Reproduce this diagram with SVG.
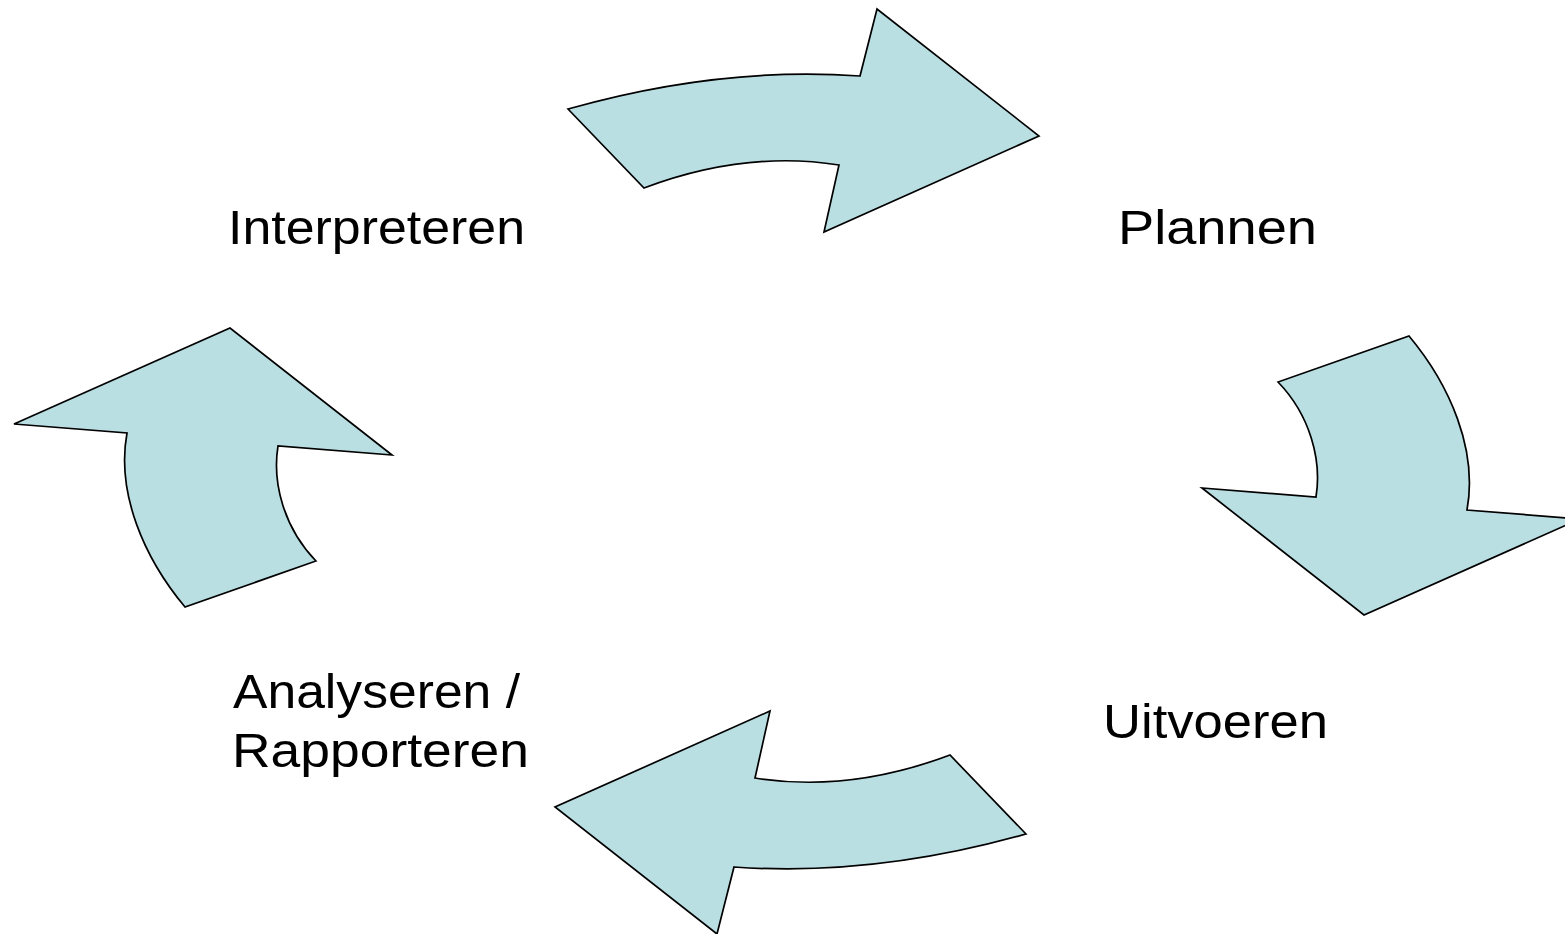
<svg xmlns="http://www.w3.org/2000/svg" width="1565" height="934" viewBox="0 0 1565 934">
<style>
.arrow{fill:#BADFE3;stroke:#000;stroke-width:1.7;stroke-linejoin:miter}
.lbl{font-family:"Liberation Sans",Arial,sans-serif;font-size:48.5px;fill:#000}
</style>
<rect width="1565" height="934" fill="#fff"/>
<g id="connectors">
<g id="arrow-top"><path class="arrow" d="M568,109 Q720,66 860,76 L877,9 L1039,136 L824,232 L839,165 Q745,150 644,188 Z"/></g>
<g id="arrow-right"><path class="arrow" d="M1409,336 C1450,385 1478,450 1467,510 L1580,519 L1364,615 L1202,488 L1316,497 C1322,460 1310,415 1278,382 Z"/></g>
<g id="arrow-bottom"><path class="arrow" transform="rotate(180 797 471.5)" d="M568,109 Q720,66 860,76 L877,9 L1039,136 L824,232 L839,165 Q745,150 644,188 Z"/></g>
<g id="arrow-left"><path class="arrow" transform="rotate(180 797 471.5)" d="M1409,336 C1450,385 1478,450 1467,510 L1580,519 L1364,615 L1202,488 L1316,497 C1322,460 1310,415 1278,382 Z"/></g>
</g>
<g id="node-interpreteren"><text class="lbl" x="228" y="244" textLength="297" lengthAdjust="spacingAndGlyphs">Interpreteren</text></g>
<g id="node-plannen"><text class="lbl" x="1118" y="244" textLength="199" lengthAdjust="spacingAndGlyphs">Plannen</text></g>
<g id="node-uitvoeren"><text class="lbl" x="1103" y="738" textLength="225" lengthAdjust="spacingAndGlyphs">Uitvoeren</text></g>
<g id="node-analyseren"><text class="lbl" x="233" y="708" textLength="287" lengthAdjust="spacingAndGlyphs">Analyseren /</text><text class="lbl" x="232" y="767" textLength="297" lengthAdjust="spacingAndGlyphs">Rapporteren</text></g>
</svg>
